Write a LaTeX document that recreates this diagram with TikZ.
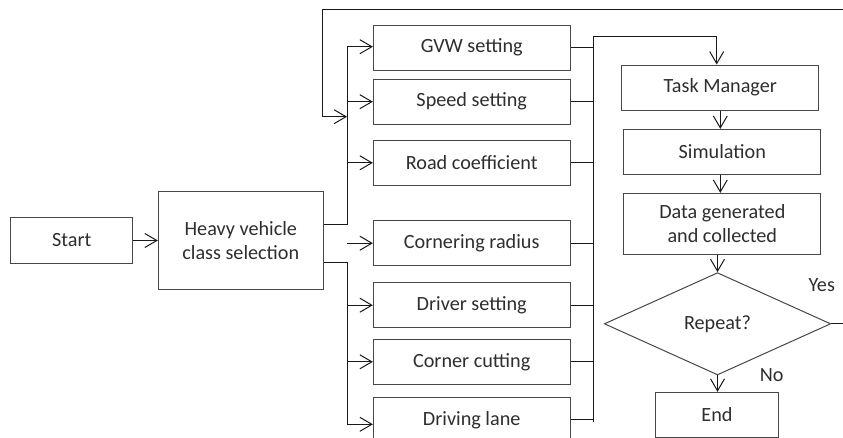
\documentclass[tikz,border=0pt]{standalone}
\usepackage{fontspec}
\setmainfont{Carlito}
\usetikzlibrary{arrows.meta,shapes.geometric,calc}
\begin{document}
\begin{tikzpicture}[x=1pt,y=-1pt,
  box/.style={draw=black!72,line width=1pt,rectangle,inner sep=0pt,
    minimum width=196.7pt,minimum height=44.7pt,align=center,
    text=black!82,font=\fontsize{20.2}{24.5}\selectfont},
  decide/.style={draw=black!72,line width=1pt,diamond,inner sep=0pt,
    minimum width=226.4pt,minimum height=102.3pt,text=black!82,
    font=\fontsize{20.2}{24.5}\selectfont},
  lbl/.style={text=black!82,font=\fontsize{20.2}{24.5}\selectfont,inner sep=0pt},
  wire/.style={draw=black!90,line width=1pt},
  arr/.style={wire,-{Straight Barb[length=12pt,width=14pt,line width=1pt]}}]
\path[use as bounding box] (0,0) rectangle (843,437);
\clip (0,0) rectangle (843,437);

% start and vehicle class
\node[box,minimum width=122pt,minimum height=45.6pt] (start) at (71.7,240.5) {Start};
\node[box,minimum width=165pt,minimum height=97.6pt] (heavy) at (240.8,240.5) {Heavy vehicle\\class selection};

% parameter boxes
\node[box] (gvw)   at (471.7,47.7)  {GVW setting};
\node[box] (speed) at (471.7,101.7) {Speed setting};
\node[box] (road)  at (471.7,162.8) {Road coefficient};
\node[box] (crad)  at (471.7,243.2) {Cornering radius};
\node[box] (drv)   at (471.7,305.2) {Driver setting};
\node[box] (ccut)  at (471.7,361.8) {Corner cutting};
\node[box] (lane)  at (471.7,419.8) {Driving lane};

% simulation chain
\node[box,minimum width=197.3pt,minimum height=45pt] (task) at (720.3,87.5) {Task Manager};
\node[box] (sim)  at (722.3,151.7) {Simulation};
\node[box,minimum height=60.7pt] (data) at (722.3,223.7) {Data generated\\and collected};
\node[decide] (rep) at (717.5,323.8) {Repeat?};
\node[box,minimum width=122.6pt,minimum height=45pt] (fin) at (717,414.8) {End};

\node[lbl] (yes) at (821.7,285) {Yes};
\node[lbl] (no)  at (771.7,375) {No};

% bus coordinates
\coordinate (hu) at ([yshift=16.2pt]heavy.east);
\coordinate (hl) at ([yshift=-21.8pt]heavy.east);
\coordinate (busU) at (347,224.3);
\coordinate (busUtop) at (347,46.7);
\coordinate (busL) at (347,262.3);
\coordinate (busLbot) at (347,424.3);
\coordinate (rbTop) at (593.3,36);
\coordinate (rbBot) at (593.3,421.7);
\coordinate (loopA) at (860,323.8);
\coordinate (loopB) at (860,9.3);
\coordinate (loopC) at (322,9.3);
\coordinate (loopIn) at (347,116.7);

% start -> class
\draw[arr] (start.east) -- (heavy.west);

% class -> upper parameters
\draw[wire] (hu) -- (busU) -- (busUtop);
\draw[arr] (busUtop) -- (busUtop -| gvw.west);
\draw[arr] (busU |- speed.west) -- (speed.west);
\draw[arr] (busU |- road.west) -- (road.west);

% class -> lower parameters
\draw[wire] (hl) -- (busL) -- (busLbot);
\draw[arr] (busL |- crad.west) -- (crad.west);
\draw[arr] (busL |- drv.west) -- (drv.west);
\draw[arr] (busL |- ccut.west) -- (ccut.west);
\draw[arr] (busLbot) -- (busLbot -| lane.west);

% parameters -> task manager
\draw[wire] (gvw.east) -- (gvw.east -| rbTop);
\draw[wire] (speed.east) -- (speed.east -| rbTop);
\draw[wire] (road.east) -- (road.east -| rbTop);
\draw[wire] (crad.east) -- (crad.east -| rbTop);
\draw[wire] (drv.east) -- (drv.east -| rbTop);
\draw[wire] (ccut.east) -- (ccut.east -| rbTop);
\draw[wire] (lane.east) -- (lane.east -| rbTop);
\draw[wire] (rbBot) -- (rbTop);
\draw[arr] (rbTop) -| (716.7,0 |- task.north);

% chain
\draw[arr] (task.south) -- (task.south |- sim.north);
\draw[arr] (task.south |- sim.south) -- (task.south |- data.north);
\draw[arr] (rep.north |- data.south) -- (rep.north);
\draw[arr] (rep.south) -- (rep.south |- fin.north);

% repeat loop
\draw[wire] (rep.east) -- (loopA) -- (loopB) -- (loopC);
\draw[arr] (loopC) |- (loopIn);
\end{tikzpicture}
\end{document}
